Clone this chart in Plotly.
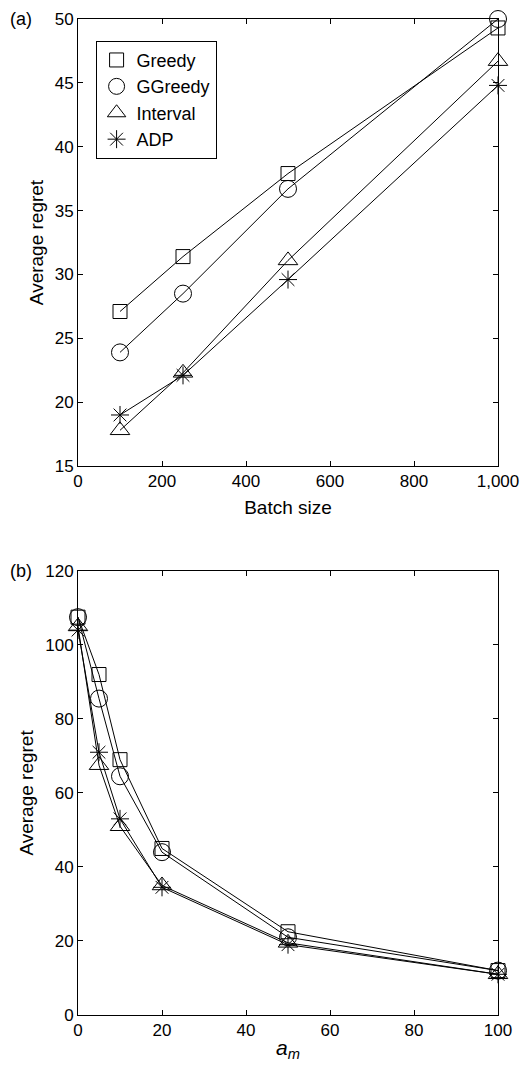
import plotly.graph_objects as go

# Panel (a)
batch_sizes = [100, 250, 500, 1000]
greedy_a = [27.1, 31.4, 37.9, 49.3]
ggreedy_a = [23.9, 28.5, 36.7, 50.0]
interval_a = [17.8, 22.3, 31.1, 46.7]
adp_a = [19.0, 22.1, 29.6, 44.8]

# Panel (b)
am_values = [0, 5, 10, 20, 50, 100]
greedy_b = [107.5, 92.0, 69.0, 45.0, 22.5, 12.0]
ggreedy_b = [107.5, 85.5, 64.5, 44.0, 21.0, 12.0]
interval_b = [105.0, 67.5, 51.0, 35.0, 19.5, 11.0]
adp_b = [104.0, 71.0, 53.0, 34.5, 19.0, 11.0]

names = ["Greedy", "GGreedy", "Interval", "ADP"]
symbols = ["square-open", "circle-open", "triangle-up-open", "asterisk-open"]
sizes = [14, 17, 17, 15]

W, H = 529, 1065
ml, mr, mt, mb = 78, 21, 10, 48
ph = H - mt - mb
pw = W - ml - mr
top_dom = [(1017 - 462) / ph, 1.0]
bot_dom = [0.0, (1017 - 568) / ph]

fig = go.Figure()
FONT = "Liberation Sans, Arial, Helvetica, sans-serif"

for ys, nm, sym, sz in zip([greedy_a, ggreedy_a, interval_a, adp_a], names, symbols, sizes):
    fig.add_trace(go.Scatter(x=batch_sizes, y=ys, mode="lines+markers", name=nm,
                             line=dict(color="black", width=1),
                             marker=dict(symbol=sym, size=sz, color="black",
                                         line=dict(color="black", width=1)),
                             showlegend=False, cliponaxis=False,
                             xaxis="x", yaxis="y"))
for ys, nm, sym, sz in zip([greedy_b, ggreedy_b, interval_b, adp_b], names, symbols, sizes):
    fig.add_trace(go.Scatter(x=am_values, y=ys, mode="lines+markers", name=nm,
                             line=dict(color="black", width=1),
                             marker=dict(symbol=sym, size=sz, color="black",
                                         line=dict(color="black", width=1)),
                             showlegend=False, cliponaxis=False,
                             xaxis="x2", yaxis="y2"))
# legend entries (markers only)
for nm, sym, sz in zip(names, symbols, sizes):
    fig.add_trace(go.Scatter(x=[None], y=[None], mode="markers", name=nm,
                             marker=dict(symbol=sym, size=sz, color="black",
                                         line=dict(color="black", width=1)),
                             showlegend=True, xaxis="x", yaxis="y"))

axis_common = dict(showline=True, linecolor="black", linewidth=1, mirror="ticks",
                   ticks="inside", ticklen=5, tickcolor="black", showgrid=False,
                   zeroline=False, tickfont=dict(size=17, color="black", family=FONT))

fig.update_layout(
    width=W, height=H,
    margin=dict(l=ml, r=mr, t=mt, b=mb),
    paper_bgcolor="white", plot_bgcolor="white",
    font=dict(family=FONT, size=17, color="black"),
    xaxis=dict(domain=[0, 1], anchor="y", range=[0, 1000], tickvals=[0, 200, 400, 600, 800, 1000],
               ticktext=["0", "200", "400", "600", "800", "1,000"],
               title=dict(text="Batch size", font=dict(size=19), standoff=10), **axis_common),
    yaxis=dict(domain=top_dom, anchor="x", range=[15, 50], dtick=5,
               title=dict(text="Average regret", font=dict(size=19), standoff=6), **axis_common),
    xaxis2=dict(domain=[0, 1], anchor="y2", range=[0, 100], dtick=20,
                title=dict(text="<i>a<sub>m</sub></i>", font=dict(size=21), standoff=0), **axis_common),
    yaxis2=dict(domain=bot_dom, anchor="x2", range=[0, 120], dtick=20,
                title=dict(text="Average regret", font=dict(size=19), standoff=6), **axis_common),
    legend=dict(x=(96 - ml) / pw, y=(1017 - 32) / ph, xanchor="left", yanchor="top",
                bordercolor="black", borderwidth=1, bgcolor="white",
                font=dict(size=18, color="black"), tracegroupgap=0, itemwidth=30),
    annotations=[
        dict(text="(a)", xref="paper", yref="paper", x=-(ml - 6) / pw, y=1.0,
             xanchor="left", yanchor="middle", showarrow=False, font=dict(size=18)),
        dict(text="(b)", xref="paper", yref="paper", x=-(ml - 6) / pw, y=bot_dom[1],
             xanchor="left", yanchor="middle", showarrow=False, font=dict(size=18)),
    ],
)

fig.write_html("out.html", config={"displayModeBar": False},
               post_script="document.body.style.margin='0';document.body.style.overflow='hidden';document.documentElement.style.overflow='hidden';")
